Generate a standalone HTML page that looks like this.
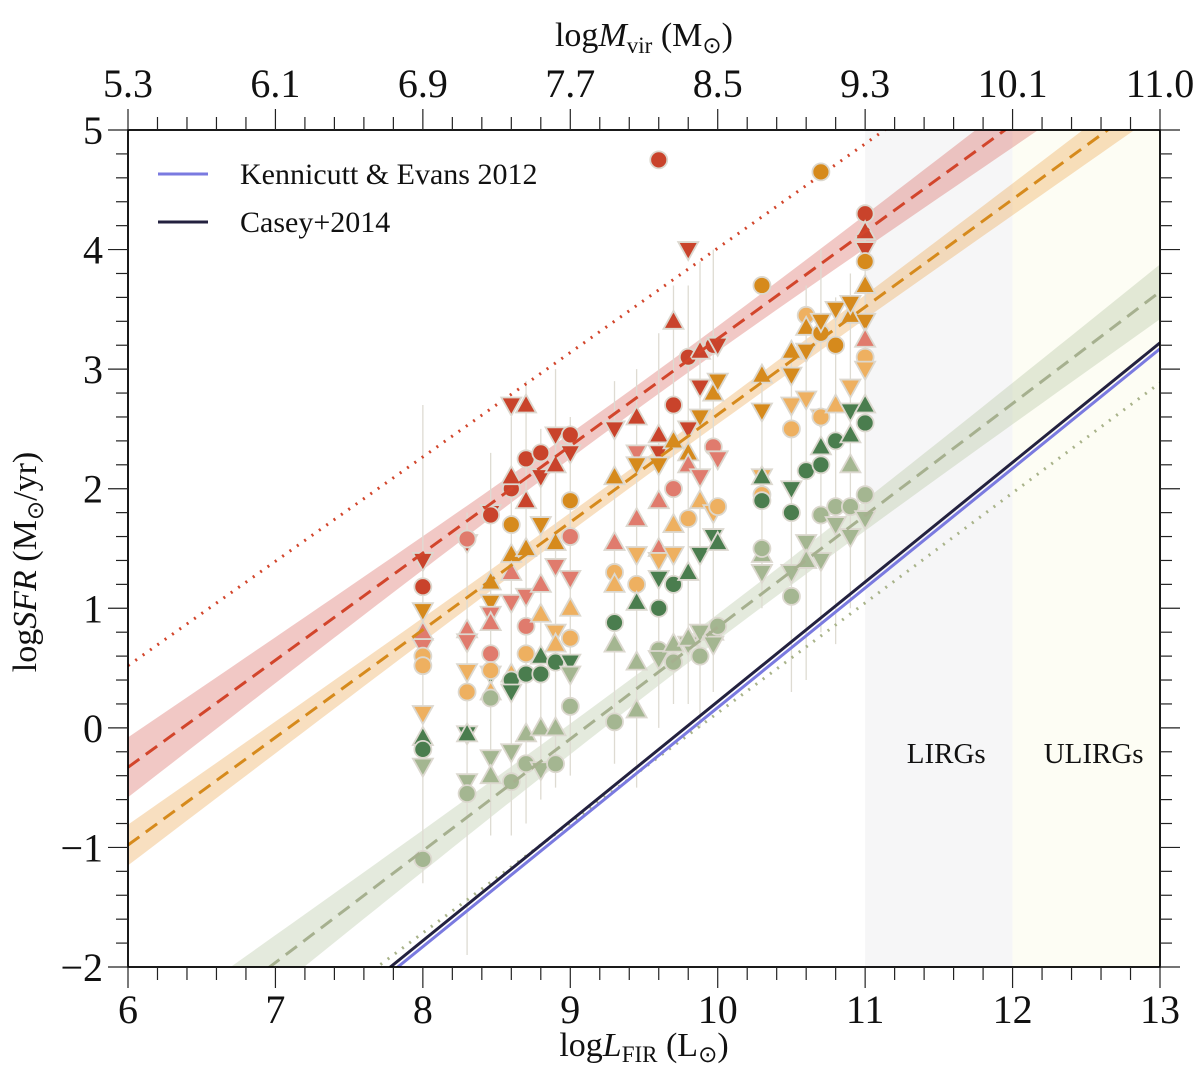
<!DOCTYPE html>
<html><head><meta charset="utf-8"><style>
body{margin:0;background:#fff;overflow:hidden}
svg{display:block;font-family:"Liberation Serif",serif}
</style></head><body>
<svg id="chart" width="1200" height="1082" viewBox="0 0 1200 1082" xmlns="http://www.w3.org/2000/svg"></svg>
<script>
const NS="http://www.w3.org/2000/svg";
const svg=document.getElementById('chart');
// axis ranges
const xMin=6,xMax=13,yMin=-2,yMax=5;
const xTicks=[6,7,8,9,10,11,12,13];
const topTickLabels=["5.3","6.1","6.9","7.7","8.5","9.3","10.1","11.0"];
const yTicks=[-2,-1,0,1,2,3,4,5];
// fitted lines [slope, intercept] y = a*x + b
const redFit=[0.896,-5.706];
const orangeFit=[0.90,-6.38];
const greenFit=[0.935,-8.508];
const redDotted=[0.873,-4.718];
const greenDotted=[0.92,-9.075];
const kennicutt=[1.0,-9.83];
const casey=[1.0,-9.78];
// confidence band params [a, b, center]: halfwidth = sqrt(a + b*(x-center)^2)
const redBand=[0.01,0.0043,9.5];
const orangeBand=[0.0058,0.0019,9.5];
const greenBand=[0.012,0.0045,10];
// error bar columns
const errX=[8.0,8.3,8.46,8.6,8.7,8.8,8.9,9.0,9.3,9.45,9.6,9.7,9.8,9.88,9.97,10.3,10.5,10.6,10.7,10.8,10.9,11.0];
const errTop=[2.7,1.8,2.3,2.6,2.9,2.5,3.0,2.6,2.9,3.0,3.3,3.7,3.7,3.9,4.0,3.0,3.2,3.7,4.0,3.6,3.8,4.3];
const errBot=[-1.3,-1.9,-0.9,-0.9,-0.8,-0.6,-0.5,-0.4,-0.3,-0.5,0.0,0.2,0.2,0.0,0.3,1.0,0.3,0.4,0.8,0.7,1.0,1.2];
// data points
const pointX=[8,8,8,8,8,8,8,8,8,8,8,8,
8.3,8.3,8.3,8.3,8.3,8.3,8.3,8.3,8.3,8.3,
8.46,8.46,8.46,8.46,8.46,8.46,8.46,8.46,8.46,8.46,8.46,8.46,8.46,
8.6,8.6,8.6,8.6,8.6,8.6,8.6,8.6,8.6,8.6,8.6,8.6,
8.7,8.7,8.7,8.7,8.7,8.7,8.7,8.7,8.7,8.7,
8.8,8.8,8.8,8.8,8.8,8.8,8.8,8.8,8.8,
8.9,8.9,8.9,8.9,8.9,8.9,8.9,8.9,8.9,
9,9,9,9,9,9,9,9,9,9,
9.3,9.3,9.3,9.3,9.3,9.3,9.3,9.3,
9.45,9.45,9.45,9.45,9.45,9.45,9.45,9.45,9.45,
9.6,9.6,9.6,9.6,9.6,9.6,9.6,9.6,9.6,9.6,9.6,
9.7,9.7,9.7,9.7,9.7,9.7,9.7,9.7,9.7,
9.8,9.8,9.8,9.8,9.8,9.8,9.8,9.8,9.8,
9.88,9.88,9.88,9.88,9.88,9.88,9.88,9.88,
9.97,9.97,9.97,9.97,9.97,9.97,9.97,
10.0,10.0,10.0,10.0,10.0,10.0,
10.3,10.3,10.3,10.3,10.3,10.3,10.3,10.3,10.3,10.3,
10.5,10.5,10.5,10.5,10.5,10.5,10.5,10.5,
10.6,10.6,10.6,10.6,10.6,10.6,10.6,
10.7,10.7,10.7,10.7,10.7,10.7,10.7,10.7,10.7,
10.8,10.8,10.8,10.8,10.8,10.8,
10.9,10.9,10.9,10.9,10.9,10.9,10.9,10.9,
11,11,11,11,11,11,11,11,11,11,11,11,11];
const pointY=[1.4,1.18,0.98,0.8,0.68,0.6,0.52,0.12,-0.08,-0.18,-0.32,-1.1,
1.55,1.58,0.82,0.72,0.47,0.3,-0.05,-0.05,-0.45,-0.55,
1.8,1.78,1.22,1.05,0.95,0.88,0.62,0.45,0.48,0.3,0.25,-0.25,-0.4,
2.0,2.1,2.7,1.7,1.45,1.3,1.05,0.45,0.4,0.3,-0.2,-0.45,
2.7,2.25,1.9,1.5,1.1,0.85,0.45,0.62,-0.05,-0.3,
2.3,2.1,1.7,1.2,0.95,0.6,0.45,0.0,-0.35,
2.45,2.2,1.55,1.35,0.8,0.7,0.55,0.0,-0.3,
2.45,2.3,1.9,1.6,1.25,1.0,0.75,0.55,0.45,0.18,
2.5,2.1,1.55,1.3,1.2,0.88,0.7,0.05,
2.6,2.3,2.2,1.75,1.45,1.2,1.05,0.55,0.15,
4.75,2.45,2.3,2.2,1.9,1.5,1.4,1.25,1.0,0.65,0.58,
3.4,2.7,2.4,2.0,1.7,1.45,1.2,0.7,0.55,
4.0,3.1,2.5,2.3,2.2,1.75,1.3,0.7,0.75,
3.15,2.85,2.6,2.1,1.9,1.45,0.8,0.6,
3.2,2.8,2.35,1.8,1.6,0.8,0.7,
3.2,2.9,2.25,1.85,1.55,0.85,
3.7,2.95,2.65,2.1,1.95,1.9,2.1,1.45,1.5,1.3,
3.15,2.95,2.7,2.5,2.0,1.8,1.3,1.1,
3.45,3.35,3.15,2.75,2.15,1.55,1.4,
4.65,3.3,3.4,2.6,2.6,2.35,2.2,1.78,1.4,
3.5,3.2,2.7,2.4,1.85,1.7,
3.45,3.55,2.85,2.65,2.45,2.2,1.6,1.85,
4.3,4.0,4.15,3.9,3.7,3.4,3.25,3.1,3.0,2.55,2.7,1.95,1.75];
const pointGroup=[0,0,2,1,1,3,3,3,4,4,5,5,
0,1,1,1,3,3,4,4,5,5,
0,0,2,2,1,1,1,4,3,3,5,5,5,
0,0,0,2,2,1,1,3,4,4,5,5,
0,0,0,2,1,1,4,3,5,5,
0,0,2,1,3,4,4,5,5,
0,0,2,1,3,3,4,5,5,
0,0,2,1,1,3,3,4,5,5,
0,2,1,3,3,4,5,5,
0,1,2,1,3,3,4,5,5,
0,0,0,2,1,1,3,4,4,5,5,
0,0,2,1,3,3,4,5,5,
0,0,0,2,1,3,4,5,5,
0,0,2,1,3,4,5,5,
0,2,1,3,4,5,5,
0,2,1,3,4,5,
2,2,2,3,3,4,4,5,5,5,
2,2,3,3,4,4,5,5,
3,2,2,3,4,5,5,
2,2,2,3,3,4,4,5,5,
2,2,3,4,5,5,
2,2,3,4,4,5,5,5,
0,0,0,2,2,2,1,3,3,4,4,5,5];
const pointShape=["d","c","d","u","d","c","c","d","u","c","d","c",
"d","c","u","d","d","c","d","u","d","c",
"d","c","u","d","d","u","c","d","c","u","c","d","u",
"c","u","d","c","u","u","d","u","c","d","d","c",
"u","c","u","u","d","c","c","c","u","c",
"c","d","d","u","u","u","c","u","d",
"d","u","u","d","d","u","c","u","c",
"c","d","c","c","d","u","c","d","d","c",
"d","u","u","c","u","c","u","c",
"u","d","d","u","d","c","u","u","u",
"c","u","d","d","u","u","d","d","c","c","d",
"u","c","u","c","u","d","c","u","c",
"d","c","d","u","u","c","u","d","u",
"u","d","d","d","u","d","d","c",
"c","u","c","d","d","u","d",
"d","d","d","c","u","c",
"c","u","d","d","c","c","u","u","c","d",
"u","d","d","c","d","c","d","c",
"c","u","d","d","c","d","u",
"c","c","d","d","c","u","c","c","d",
"d","c","u","c","c","d",
"u","d","d","d","u","u","d","c",
"c","d","u","c","u","d","u","c","d","c","u","c","d"];
const groupColors=["#c9432b","#e07b6d","#d68a1c","#eeb060","#4a7d4e","#a4b691"];
const groupNames=["red","light-red","orange","light-orange","dark-green","light-green"];

// axis functions
const L=128,R=1160,T=130,B=967;
const sx=v=>L+(v-xMin)/(xMax-xMin)*(R-L);
const sy=v=>B-(v-yMin)/(yMax-yMin)*(B-T);
function el(tag,attrs,parent){const e=document.createElementNS(NS,tag);for(const k in attrs)e.setAttribute(k,attrs[k]);(parent||svg).appendChild(e);return e;}

const defs=el('defs',{});
const cp=el('clipPath',{id:'clip'},defs);
el('rect',{x:L,y:T,width:R-L,height:B-T},cp);

const lirg=el('rect',{x:sx(11),y:T,width:sx(12)-sx(11),height:B-T,fill:'#f6f6f7'});


const ulirg=el('rect',{x:sx(12),y:T,width:sx(13)-sx(12),height:B-T,fill:'#fdfdf4'});



const g=el('g',{'clip-path':'url(#clip)'});



function band(fit,bp,color,name){
  const up=[],lo=[];
  for(let x=xMin;x<=xMax+1e-9;x+=0.1){
    const w=Math.sqrt(bp[0]+bp[1]*(x-bp[2])*(x-bp[2]));
    const c=fit[0]*x+fit[1];
    up.push(sx(x)+','+sy(c+w));
    lo.unshift(sx(x)+','+sy(c-w));
  }
  const p=el('polygon',{points:up.concat(lo).join(' '),fill:color},g);
  
  
}
function line(fit,color,w,dash,name){
  const l=el('line',{x1:sx(xMin),y1:sy(fit[0]*xMin+fit[1]),x2:sx(xMax),y2:sy(fit[0]*xMax+fit[1]),stroke:color,'stroke-width':w},g);
  if(dash)l.setAttribute('stroke-dasharray',dash);
  
  
}
band(redFit,redBand,'rgba(214,96,88,0.35)','red-fit-band');
band(orangeFit,orangeBand,'rgba(236,170,90,0.38)','orange-fit-band');
band(greenFit,greenBand,'rgba(170,190,150,0.32)','green-fit-band');

for(let i=0;i<errX.length;i++){
  const e=el('line',{x1:sx(errX[i]),x2:sx(errX[i]),y1:sy(errTop[i]),y2:sy(errBot[i]),stroke:'#dedbd2','stroke-width':1.3},g);
  
  
}

line(redDotted,'#d2452b',3,'2 7','red-dotted-line');
line(greenDotted,'#a9b38a',3,'2 7','green-dotted-line');
line(kennicutt,'#7a7ae0',3,null,'kennicutt-evans-line');
line(casey,'#23213f',3,null,'casey-line');

for(let i=0;i<pointX.length;i++){
  const cx=sx(pointX[i]),cy=sy(pointY[i]),col=groupColors[pointGroup[i]];
  let m;
  if(pointShape[i]==='c'){
    m=el('circle',{cx:cx,cy:cy,r:8.5,fill:col,stroke:'#dcd8cf','stroke-width':1.8},g);
  }else if(pointShape[i]==='u'){
    m=el('polygon',{points:`${cx},${cy-10.5} ${cx+10},${cy+7.5} ${cx-10},${cy+7.5}`,fill:col,stroke:'#dcd8cf','stroke-width':1.8},g);
  }else{
    m=el('polygon',{points:`${cx},${cy+10.5} ${cx+10},${cy-7.5} ${cx-10},${cy-7.5}`,fill:col,stroke:'#dcd8cf','stroke-width':1.8},g);
  }
  
  
}
line(redFit,'#d2452b',3,'14 8','red-dashed-fit');
line(orangeFit,'#d68a1c',3,'14 8','orange-dashed-fit');
line(greenFit,'#a6b08f',3,'14 8','green-dashed-fit');

function text(x,y,s,size,anchor,name){
  const t=el('text',{x:x,y:y,'font-size':size,'text-anchor':anchor||'middle',fill:'#111'});
  t.textContent=s;
  
  
  return t;
}
text(sx(11.55),763,'LIRGs',29,'middle','lirg-label');
text(sx(12.55),763,'ULIRGs',29,'middle','ulirg-label');

const frame=el('rect',{x:L,y:T,width:R-L,height:B-T,fill:'none',stroke:'#000','stroke-width':1.8});



const tg=el('g',{stroke:'#222','stroke-width':1.2});


for(let v=xMin;v<=xMax+1e-9;v+=0.2){
  const major=Math.abs(v-Math.round(v))<1e-6,len=major?21:13,x=sx(v);
  el('line',{x1:x,x2:x,y1:B,y2:B+len},tg);
  el('line',{x1:x,x2:x,y1:T,y2:T-len},tg);
}
for(let v=yMin;v<=yMax+1e-9;v+=0.2){
  const major=Math.abs(v-Math.round(v))<1e-6,len=major?20:12,y=sy(v);
  el('line',{x1:L,x2:L-len,y1:y,y2:y},tg);
  el('line',{x1:R,x2:R+len,y1:y,y2:y},tg);
}
xTicks.forEach((v,i)=>{
  text(sx(v),1023,String(v),40,'middle','x-tick-label');
  text(sx(v),97,topTickLabels[i],40,'middle','top-tick-label');
});
yTicks.forEach(v=>{
  text(103,sy(v)+14,v<0?'\u2212'+Math.abs(v):String(v),40,'end','y-tick-label');
});

const xt=el('text',{x:644,y:1056,'font-size':34,'text-anchor':'middle',fill:'#111'});
xt.innerHTML='log<tspan font-style="italic">L</tspan><tspan font-size="23" dy="6">FIR</tspan><tspan dy="-6"> (L</tspan><tspan font-size="23" dy="6">⊙</tspan><tspan dy="-6">)</tspan>';


const tt=el('text',{x:644,y:46,'font-size':34,'text-anchor':'middle',fill:'#111'});
tt.innerHTML='log<tspan font-style="italic">M</tspan><tspan font-size="23" dy="7">vir</tspan><tspan dy="-7"> (M</tspan><tspan font-size="23" dy="7">⊙</tspan><tspan dy="-7">)</tspan>';


const yt=el('text',{x:0,y:0,'font-size':34,'text-anchor':'middle',fill:'#111',transform:'translate(36,562) rotate(-90)'});
yt.innerHTML='log<tspan font-style="italic">SFR</tspan> (M<tspan font-size="23" dy="7">⊙</tspan><tspan dy="-7">/yr)</tspan>';



const lg=el('g',{});


const l1=el('line',{x1:158,x2:208,y1:174,y2:174,stroke:'#7a7ae0','stroke-width':3},lg);


const l2=el('line',{x1:158,x2:208,y1:222,y2:222,stroke:'#23213f','stroke-width':3},lg);


const t1=text(240,184,'Kennicutt & Evans 2012',30,'start','legend-kennicutt-label');
const t2=text(240,232,'Casey+2014',30,'start','legend-casey-label');
lg.appendChild(t1);lg.appendChild(t2);
</script>
</body></html>
